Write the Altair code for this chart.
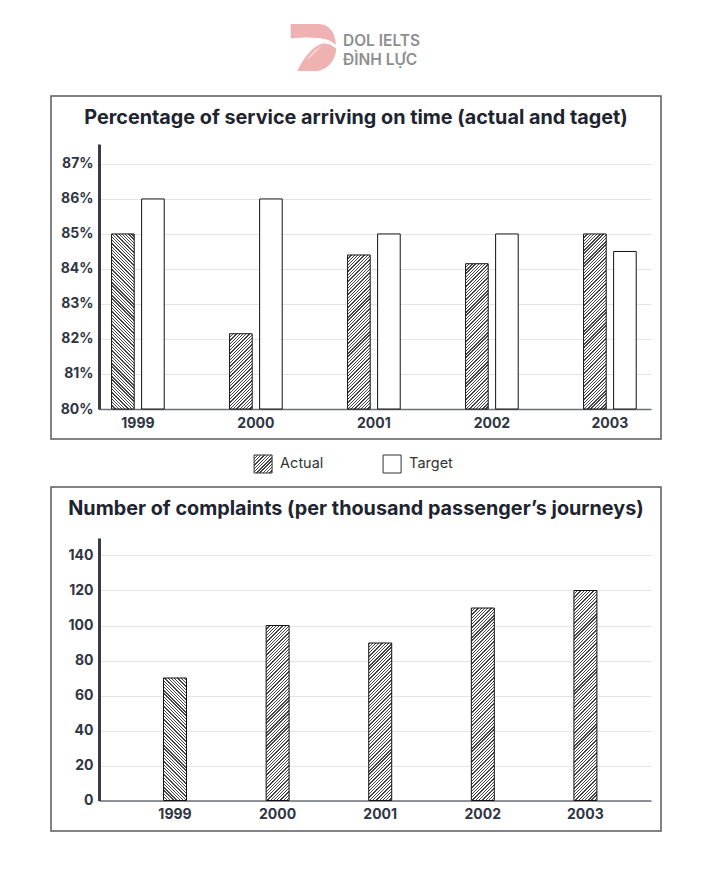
import math
import altair as alt
import pandas as pd

# ---------------- data ----------------
years = ["1999", "2000", "2001", "2002", "2003"]
series = ["Actual", "Target"]
actual_pct = [85.0, 82.15, 84.4, 84.15, 85.0]
target_pct = [86.0, 86.0, 85.0, 85.0, 84.5]
complaints = [70, 100, 90, 110, 120]
pct_ticks = [80, 81, 82, 83, 84, 85, 86, 87]
complaint_ticks = [0, 20, 40, 60, 80, 100, 120, 140]
titles = ["Percentage of service arriving on time (actual and taget)",
          "Number of complaints (per thousand passenger\u2019s journeys)"]
logo_lines = ["DOL IELTS", "\u0110\u00ccNH L\u1ef0C"]

# ---------------- style ----------------
FONT = "Inter"
TXT = "#2f3542"
AXIS_DARK = "#363c4a"
AXIS_GREY = "#6b6f78"
GRID = "#e4e4e4"
FRAME = "#5a5a5a"
PW = 552             # plot width
H1, H2 = 265, 262.5  # plot heights
D1 = [80, 87.57]
D2 = [0, 150]

LOGO_SHAPE = ("M -0.91 -1 L 0.3 -1 C 0.75 -1 1.0 -0.6 1.02 -0.1 "
              "C 0.8 -0.35 0.3 -0.5 -0.91 -0.38 Z "
              "M 1.03 0.05 C 1.0 0.6 0.6 1.0 0.1 1.0 L -0.62 1.0 "
              "C -0.4 0.5 0.0 -0.05 0.45 -0.17 C 0.7 -0.2 0.9 -0.1 1.03 0.05 Z")
LOGO_GLINT = "M -0.25 0.55 C -0.05 0.25 0.15 0.05 0.42 -0.06 C 0.2 0.12 0.05 0.35 -0.25 0.55 Z"


def hatch(w, h, direction, period=2.3, ink=0.4, dark="#444444", light="#ffffff"):
    a = (1 / h + 1 / w) / (1 / h ** 2 + 1 / w ** 2)
    gx, gy = a / h, a / w
    L = (w + h) / math.sqrt(2)
    n = max(1, round(L / period))
    stops = []
    for k in range(n):
        s, m, e = k / n, (k + ink) / n, (k + 1) / n
        stops += [
            {"offset": round(s, 5), "color": dark},
            {"offset": round(m, 5), "color": dark},
            {"offset": round(m, 5), "color": light},
            {"offset": round(e, 5), "color": light},
        ]
    if direction == "/":
        x1, y1, x2, y2 = 0, 0, gx, gy
    else:
        x1, y1, x2, y2 = 0, 1, gx, 1 - gy
    return {"gradient": "linear", "x1": x1, "y1": y1, "x2": x2, "y2": y2, "stops": stops}


def direction(y):
    return "\\" if y == years[0] else "/"


one = pd.DataFrame({"k": [0]})


def frame(top, bottom):
    return alt.Chart(one).mark_rect(fillOpacity=0, stroke=FRAME, strokeWidth=1.5).encode(
        x=alt.value(-48), x2=alt.value(562), y=alt.value(top), y2=alt.value(bottom)
    )


def title_mark(i, ypos):
    d = pd.DataFrame({"t": [titles[i]]})
    return alt.Chart(d).mark_text(
        align="center", baseline="middle", fontSize=19.8, font=FONT, fontWeight="bold",
        color="#1e2430").encode(x=alt.value(257), y=alt.value(ypos), text="t:N")


x_axis = dict(title=None, labelAngle=0, ticks=False, domainColor=AXIS_GREY, domainWidth=1.5,
              labelFontSize=14, labelFontWeight="bold", labelColor=TXT, labelPadding=7,
              grid=False, labelFont=FONT)
y_axis = dict(title=None, ticks=False, domainColor=AXIS_DARK, domainWidth=3, grid=True,
              gridColor=GRID, gridWidth=1, labelFontSize=14, labelFontWeight="bold",
              labelColor=TXT, labelPadding=6, labelFont=FONT)

# ---------------- chart 1 ----------------
df1 = pd.DataFrame({
    "year": years * 2,
    "series": [series[0]] * len(years) + [series[1]] * len(years),
    "value": actual_pct + target_pct,
})
x1 = alt.X("year:N", sort=years,
           scale=alt.Scale(domain=years, paddingInner=0.554, paddingOuter=0.116, align=0.46),
           axis=alt.Axis(**x_axis))
xo1 = alt.XOffset("series:N", sort=series,
                  scale=alt.Scale(domain=series, paddingInner=0.247, paddingOuter=0))
y1 = alt.Y("value:Q", scale=alt.Scale(domain=D1, nice=False, zero=False),
           axis=alt.Axis(values=pct_ticks, labelExpr="datum.value + '%'", **y_axis))

step1 = PW / (len(years) - 0.554 + 2 * 0.116)
band1 = step1 * (1 - 0.554)
bw1 = band1 / (2 - 0.247) * (1 - 0.247)
px1 = H1 / (D1[1] - D1[0])

layers1 = [frame(-48, 295)]
layers1.append(
    alt.Chart(df1).transform_filter(f"datum.series == '{series[1]}'")
    .mark_bar(fill="white", stroke="#111111", strokeWidth=1)
    .encode(x=x1, xOffset=xo1, y=y1, y2=alt.Y2Datum(D1[0]))
)
for yv, v in zip(years, actual_pct):
    g = hatch(bw1, (v - D1[0]) * px1, direction(yv))
    layers1.append(
        alt.Chart(df1)
        .transform_filter(f"datum.series == '{series[0]}' && datum.year == '{yv}'")
        .mark_bar(fill=g, stroke="#111111", strokeWidth=1)
        .encode(x=x1, xOffset=xo1, y=y1, y2=alt.Y2Datum(D1[0]))
    )
layers1.append(title_mark(0, -26))
chart1 = alt.layer(*layers1).properties(width=PW, height=H1)

# ---------------- legend ----------------
dfl = pd.DataFrame({"series": series})
lx = alt.X("series:N", sort=series, axis=None,
           scale=alt.Scale(type="point", domain=series, padding=1, align=0.636))
leg_layers = []
for s in series:
    fill = hatch(18, 18, "/") if s == series[0] else "white"
    leg_layers.append(
        alt.Chart(dfl).transform_filter(f"datum.series == '{s}'")
        .mark_square(size=324, fill=fill, stroke="#333333", strokeWidth=1, opacity=1)
        .encode(x=lx, y=alt.value(24))
    )
leg_layers.append(
    alt.Chart(dfl).mark_text(align="left", baseline="middle", dx=17, fontSize=14.5,
                             font=FONT, color="#333333")
    .encode(x=lx, y=alt.value(24), text="series:N")
)
legend = alt.layer(*leg_layers).properties(width=387, height=46)

# ---------------- chart 2 ----------------
df2 = pd.DataFrame({"year": years, "value": complaints})
x2 = alt.X("year:N", sort=years,
           scale=alt.Scale(domain=years, paddingInner=0.776, paddingOuter=0.578, align=0.544),
           axis=alt.Axis(**x_axis))
y2 = alt.Y("value:Q", scale=alt.Scale(domain=D2, nice=False),
           axis=alt.Axis(values=complaint_ticks, **y_axis))
step2 = PW / (len(years) - 0.776 + 2 * 0.578)
bw2 = step2 * (1 - 0.776)
px2 = H2 / (D2[1] - D2[0])

layers2 = [frame(-51, 293)]
for yv, v in zip(years, complaints):
    g = hatch(bw2, v * px2, direction(yv))
    layers2.append(
        alt.Chart(df2).transform_filter(f"datum.year == '{yv}'")
        .mark_bar(fill=g, stroke="#111111", strokeWidth=1)
        .encode(x=x2, y=y2)
    )
layers2.append(title_mark(1, -29))
chart2 = alt.layer(*layers2).properties(width=PW, height=H2)

# ---------------- logo ----------------
dlogo = pd.DataFrame({"t": logo_lines})
logo = alt.layer(
    alt.Chart(one).mark_point(shape=LOGO_SHAPE, size=2209, filled=True, fill="#eeb2b2",
                              opacity=1, strokeWidth=0)
    .encode(x=alt.value(213), y=alt.value(39.5)),
    alt.Chart(one).mark_point(shape=LOGO_GLINT, size=2209, filled=True, fill="#f6d3d3",
                              opacity=1, strokeWidth=0)
    .encode(x=alt.value(213), y=alt.value(39.5)),
    alt.Chart(dlogo).transform_filter(f"datum.t == '{logo_lines[0]}'").mark_text(
        align="left", baseline="alphabetic", fontSize=15.5, font=FONT, fontWeight=600,
        color="#8e8e8e").encode(x=alt.value(244), y=alt.value(38), text="t:N"),
    alt.Chart(dlogo).transform_filter(f"datum.t == '{logo_lines[1]}'").mark_text(
        align="left", baseline="alphabetic", fontSize=15.5, font=FONT, fontWeight=600,
        color="#8e8e8e").encode(x=alt.value(244), y=alt.value(57), text="t:N"),
).properties(width=PW, height=87)

chart = alt.vconcat(logo, chart1, legend, chart2, spacing=0).properties(
    padding={"left": 42, "top": 0, "right": 5, "bottom": 5}
).configure(font=FONT).configure_view(strokeWidth=0, stroke="transparent")

chart.save("out.html", embed_options={"renderer": "svg", "actions": False})
